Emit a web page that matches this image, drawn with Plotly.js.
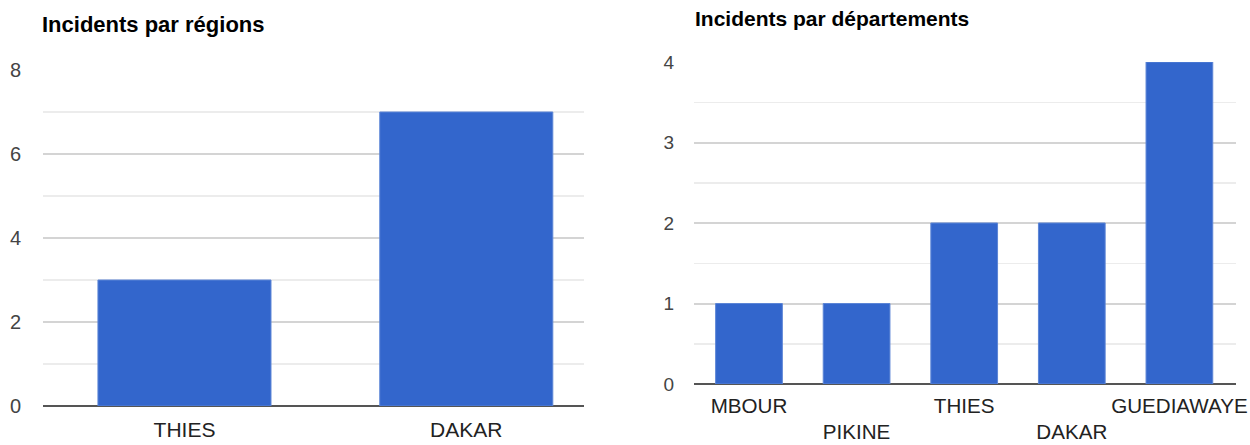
<!DOCTYPE html>
<html><head><meta charset="utf-8">
<script src="https://cdn.plot.ly/plotly-3.0.1.min.js"></script>
<style>html,body{margin:0;padding:0;background:#fff}#chart{width:1250px;height:445px}</style>
</head><body><div id="chart"></div>
<script>
const regionCategories = ["THIES", "DAKAR"];
const regionIncidents = [3, 7];
const deptCategories = ["MBOUR", "PIKINE", "THIES", "DAKAR", "GUEDIAWAYE"];
const deptIncidents = [1, 1, 2, 2, 4];
const regionTitle = "Incidents par régions";
const deptTitle = "Incidents par départements";

const blue = "#3366cc";
const deptTickText = deptCategories.map((c, i) => (i % 2 === 1 ? "<br>" : "") + c);

const traces = [
  {type: "bar", x: regionCategories, y: regionIncidents, xaxis: "x", yaxis: "y",
   marker: {color: blue, line: {color: "#5c85d6", width: 1}}, width: 0.614, hoverinfo: "x+y"},
  {type: "bar", x: deptCategories, y: deptIncidents, xaxis: "x2", yaxis: "y2",
   marker: {color: blue, line: {color: "#5c85d6", width: 1}}, width: 0.62, hoverinfo: "x+y"}
];

const fontFam = "Liberation Sans, Arial, sans-serif";
const layout = {
  width: 1250, height: 445,
  margin: {l: 0, r: 0, t: 0, b: 0},
  paper_bgcolor: "#fff", plot_bgcolor: "#fff",
  showlegend: false,
  font: {family: fontFam, color: "#222"},
  xaxis: {domain: [43/1250, 584/1250], anchor: "y", type: "category", range: [-0.502, 1.4177],
    showgrid: false, showline: false, zeroline: false, ticks: "",
    tickfont: {size: 21, color: "#222"}, ticklabelstandoff: 9},
  yaxis: {domain: [39/445, 375/445], anchor: "x", range: [0, 8], dtick: 2,
    showgrid: true, gridcolor: "#d4d4d4", gridwidth: 2,
    minor: {dtick: 1, showgrid: true, gridcolor: "#ececec", gridwidth: 1.5},
    zeroline: true, zerolinecolor: "#555", zerolinewidth: 2,
    showline: false, ticks: "", tickfont: {size: 20, color: "#444"}, ticklabelstandoff: 21},
  xaxis2: {domain: [694/1250, 1236/1250], anchor: "y2", type: "category", range: [-0.511, 4.526],
    tickmode: "array", tickvals: deptCategories, ticktext: deptTickText,
    showgrid: false, showline: false, zeroline: false, ticks: "",
    tickfont: {size: 20.6, color: "#222"}, ticklabelstandoff: 7},
  yaxis2: {domain: [61/445, 383/445], anchor: "x2", range: [0, 4], dtick: 1,
    showgrid: true, gridcolor: "#d4d4d4", gridwidth: 2,
    minor: {dtick: 0.5, showgrid: true, gridcolor: "#ececec", gridwidth: 1.5},
    zeroline: true, zerolinecolor: "#555", zerolinewidth: 2,
    showline: false, ticks: "", tickfont: {size: 19, color: "#444"}, ticklabelstandoff: 19},
  annotations: [
    {text: "<b>" + regionTitle + "</b>", xref: "paper", yref: "paper", x: 40/1250, y: 1 - 24/445,
     xanchor: "left", yanchor: "middle", showarrow: false, font: {size: 22, color: "#000", family: fontFam}},
    {text: "<b>" + deptTitle + "</b>", xref: "paper", yref: "paper", x: 693/1250, y: 1 - 18/445,
     xanchor: "left", yanchor: "middle", showarrow: false, font: {size: 21, color: "#000", family: fontFam}}
  ]
};

Plotly.newPlot("chart", traces, layout, {displayModeBar: false, staticPlot: true});
</script></body></html>
